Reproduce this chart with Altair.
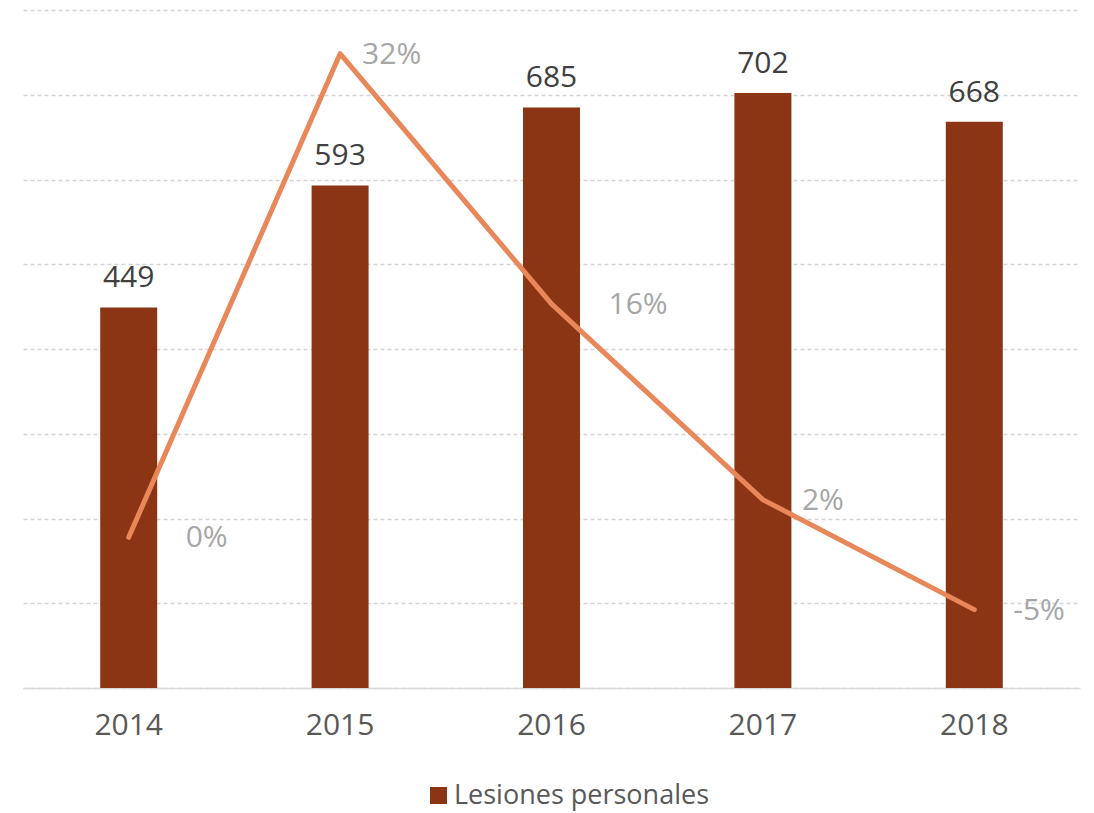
import altair as alt
import pandas as pd

years = ["2014", "2015", "2016", "2017", "2018"]
counts = [449, 593, 685, 702, 668]
pct_values = [0.0, 0.321, 0.155, 0.025, -0.048]
pct_labels = ["0%", "32%", "16%", "2%", "-5%"]
series_name = "Lesiones personales"
count_ticks = [0, 100, 200, 300, 400, 500, 600, 700, 800]

df = pd.DataFrame({
    "year": years,
    "count": counts,
    "pct": pct_values,
    "pct_label": pct_labels,
    "serie": [series_name] * len(years),
})

FONT = "Open Sans"
BAR_COLOR = "#8B3514"
LINE_COLOR = "#E8875A"

x_enc = alt.X(
    "year:N",
    sort=years,
    scale=alt.Scale(paddingInner=0, paddingOuter=0),
    axis=alt.Axis(
        title=None, labelAngle=0, ticks=False, domainColor="#d9d9d9",
        domainWidth=1.5, labelPadding=22, labelFontSize=30,
        labelColor="#595959", labelFont=FONT, grid=False,
    ),
)

y_count = alt.Y(
    "count:Q",
    scale=alt.Scale(domain=[0, 800], nice=False, zero=True),
    axis=alt.Axis(
        values=count_ticks, grid=True, gridDash=[4, 3], gridColor="#d4d4d4",
        gridWidth=1.5, domain=False, ticks=False, labels=False, title=None,
    ),
)

y_pct = alt.Y(
    "pct:Q",
    scale=alt.Scale(domain=[-0.10, 0.35], nice=False, zero=False),
    axis=None,
)

base = alt.Chart(df)

bars = base.mark_bar(width=57).encode(
    x=x_enc,
    y=y_count,
    color=alt.Color(
        "serie:N",
        scale=alt.Scale(domain=[series_name], range=[BAR_COLOR]),
        legend=alt.Legend(
            title=None, orient="none", legendX=402, legendY=772,
            symbolType="square", symbolSize=289, symbolStrokeWidth=0,
            labelFontSize=27, labelFont=FONT, labelColor="#595959",
            labelOffset=2, padding=0, labelLimit=500,
        ),
    ),
)

bar_labels = base.mark_text(
    baseline="alphabetic", dy=-20, fontSize=30, font=FONT, color="#404040"
).encode(x=x_enc, y=y_count, text=alt.Text("count:Q"))

line = base.mark_line(
    color=LINE_COLOR, strokeWidth=5, strokeCap="round", strokeJoin="round"
).encode(x=x_enc, y=y_pct)

def pct_text(sel, dx):
    return base.transform_filter(
        alt.FieldOneOfPredicate(field="year", oneOf=sel)
    ).mark_text(
        align="left", baseline="alphabetic", dx=dx, dy=10,
        fontSize=30, font=FONT, color="#a6a6a6",
    ).encode(x=x_enc, y=y_pct, text="pct_label:N")

pct_a = pct_text(["2014", "2016"], 57)
pct_b = pct_text(["2017", "2018"], 39)
pct_c = pct_text(["2015"], 22)

left = alt.layer(bars, bar_labels)
right = alt.layer(line, pct_a, pct_b, pct_c)

chart = alt.layer(left, right).resolve_scale(y="independent").properties(
    width=1057,
    height=678,
    autosize=alt.AutoSizeParams(type="none"),
    padding={"left": 15, "top": 2, "right": 6, "bottom": 125},
).configure(font=FONT).configure_view(stroke=None, strokeWidth=0)

chart.save("out.html", embed_options={"renderer": "svg", "actions": False})
